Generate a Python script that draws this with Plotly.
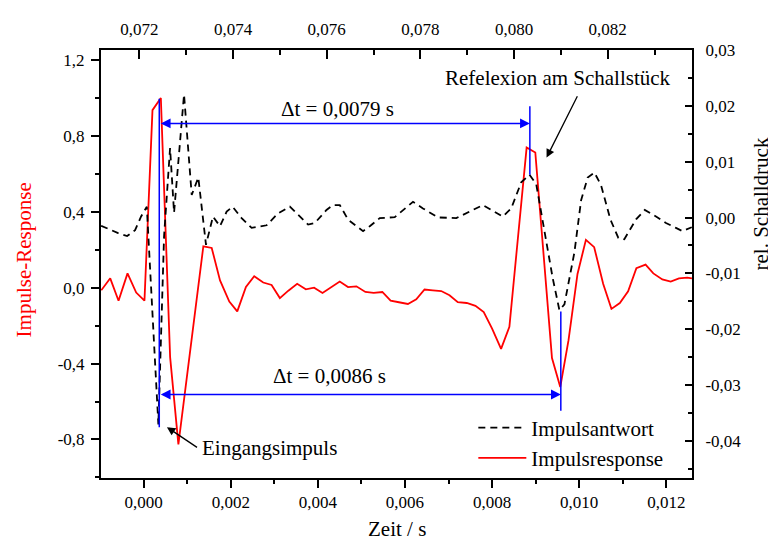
import plotly.graph_objects as go

# ---------------- data ----------------
# Impulsresponse (red, bottom time axis / left y axis)
red_t = [-0.000974, -0.000768, -0.000577, -0.000371, -0.000172, 0.000018, 0.000202, 0.000394,
         0.000607, 0.000797, 0.00137, 0.001562, 0.001753, 0.001966, 0.002149, 0.002348, 0.002538,
         0.002745, 0.002937, 0.003127, 0.003322, 0.003524, 0.003723, 0.003913, 0.004106, 0.004296,
         0.004502, 0.004692, 0.004884, 0.005091, 0.005281, 0.00548, 0.00567, 0.00586, 0.006067,
         0.006259, 0.006449, 0.006639, 0.006832, 0.007022, 0.007212, 0.007418, 0.007618, 0.007808,
         0.0080, 0.008206, 0.008397, 0.008793, 0.008992, 0.009375, 0.009565, 0.009755, 0.009961,
         0.010154, 0.010344, 0.01055, 0.01074, 0.010933, 0.011123, 0.011313, 0.011524, 0.011702,
         0.011909, 0.012101, 0.012291, 0.012481, 0.012589]
red_v = [-0.014, 0.049, -0.069, 0.075, -0.026, -0.069, 0.935, 0.999, -0.366, -0.826, 0.218, 0.209,
         0.038, -0.073, -0.125, 0.004, 0.06, 0.027, 0.014, -0.055, -0.016, 0.02, -0.009, 0.0,
         -0.028, 0.003, 0.032, 0.003, 0.007, -0.023, -0.028, -0.023, -0.069, -0.077, -0.086,
         -0.062, -0.010, -0.014, -0.018, -0.040, -0.077, -0.081, -0.096, -0.129, -0.216, -0.323,
         -0.206, 0.738, 0.712, -0.371, -0.524, -0.277, 0.072, 0.252, 0.213, 0.02, -0.112, -0.081,
         -0.019, 0.102, 0.121, 0.075, 0.043, 0.032, 0.049, 0.053, 0.049]

# Impulsantwort (black dashed, top time axis / right y axis)
black_t = [0.071183, 0.071546, 0.071738, 0.071908, 0.072036, 0.072158, 0.072405, 0.072527, 0.072655,
           0.07274, 0.072953, 0.073117, 0.073258, 0.073422, 0.073571, 0.073721, 0.073863, 0.073991,
           0.074183, 0.074396, 0.074716, 0.074963, 0.075213, 0.075356, 0.075603, 0.075746, 0.075995,
           0.076136, 0.076279, 0.076456, 0.076776, 0.076919, 0.077132, 0.077452, 0.077558, 0.077842,
           0.078055, 0.078375, 0.078767, 0.07905, 0.079334, 0.07976, 0.07994, 0.080153, 0.08033,
           0.080473, 0.080686, 0.080826, 0.080969, 0.081076, 0.081289, 0.081432, 0.081573, 0.081716,
           0.081858, 0.082057, 0.082227, 0.082355, 0.082605, 0.082792, 0.083031, 0.083244, 0.083457,
           0.083598, 0.083795]
black_v = [-0.00147, -0.00278, -0.0033, -0.00225, 0.00019, 0.00194, -0.03704, -0.0033, 0.01243,
           0.00089, 0.02204, 0.00403, 0.00719, -0.00488, 0.00019, -0.00156, 0.00107, 0.00194,
           -0.0001, -0.00185, -0.00138, 0.00077, 0.00194, 0.00077, -0.00126, -0.00098, 0.00136,
           0.00224, 0.00224, -0.00038, -0.00243, -0.00156, -0.0001, 0.00007, 0.00077, 0.00281,
           0.00164, 0.00002, -0.0001, 0.00107, 0.00224, 0.00019, 0.00164, 0.00631, 0.00766,
           0.00601, -0.00388, -0.01087, -0.01659, -0.01554, -0.00622, 0.00311, 0.00718, 0.00806,
           0.00579, -0.00033, -0.00365, -0.00388, -0.00033, 0.00136, 0.00019, -0.00098, -0.00185,
           -0.00243, -0.00173]

# tick values / labels
x_ticks = [0.000, 0.002, 0.004, 0.006, 0.008, 0.010, 0.012]
x2_ticks = [0.072, 0.074, 0.076, 0.078, 0.080, 0.082]
y_ticks = [-0.8, -0.4, 0.0, 0.4, 0.8, 1.2]
y2_ticks = [-0.04, -0.03, -0.02, -0.01, 0.00, 0.01, 0.02, 0.03]

# marker positions of the time-difference construction (data units)
t_start = 0.000358
t_refl_top = 0.008867
t_refl_bot = 0.009578
dt_top_label = "\u0394t = 0,0079 s"
dt_bot_label = "\u0394t = 0,0086 s"


def fmt(v, d):
    s = f"{v:.{d}f}".replace(".", ",")
    return s


FONT = "Liberation Serif"
TICKF = dict(family=FONT, size=17, color="black")

fig = go.Figure()
fig.add_trace(go.Scatter(x=red_t, y=red_v, mode="lines", name="Impulsresponse",
                         line=dict(color="#ff0000", width=1.8), xaxis="x", yaxis="y",
                         legendrank=2))
fig.add_trace(go.Scatter(x=black_t, y=black_v, mode="lines", name="Impulsantwort",
                         line=dict(color="black", width=1.8, dash="7px,5px"),
                         xaxis="x2", yaxis="y2", legendrank=1))

axis_common = dict(showgrid=False, zeroline=False, showline=True, linecolor="black",
                   linewidth=2, tickcolor="black", tickwidth=1.5, tickfont=TICKF)

# the page body adds an 8px offset; the figure is sized to fit in the window
fig.update_layout(
    width=768, height=533,
    margin=dict(l=92.7, r=83.5, t=31, b=63),
    paper_bgcolor="white", plot_bgcolor="white",
    showlegend=True,
    legend=dict(x=0.63, y=0.165, xanchor="left", yanchor="top",
                font=dict(family=FONT, size=21, color="black"),
                bgcolor="rgba(0,0,0,0)", itemwidth=48, tracegroupgap=0),
    xaxis=dict(range=[-0.00098, 0.01259], tickmode="array", tickvals=x_ticks,
               ticktext=[fmt(v, 3) for v in x_ticks], ticks="outside", ticklen=8,
               minor=dict(tickvals=[0.001, 0.003, 0.005, 0.007, 0.009, 0.011], ticks="outside",
                          ticklen=4, tickcolor="black", tickwidth=1.5),
               **axis_common),
    xaxis2=dict(range=[0.07118, 0.08380], overlaying="x", side="top", anchor="y2",
                tickmode="array", tickvals=x2_ticks, ticktext=[fmt(v, 3) for v in x2_ticks],
                ticks="inside", ticklen=9, ticklabelstandoff=6,
                minor=dict(tickvals=[0.073, 0.075, 0.077, 0.079, 0.081, 0.083], ticks="inside",
                           ticklen=5, tickcolor="black", tickwidth=1.5),
                **axis_common),
    yaxis=dict(range=[-1.003, 1.252], tickmode="array", tickvals=y_ticks,
               ticktext=[fmt(v, 1) for v in y_ticks], ticks="outside", ticklen=8,
               ticklabelstandoff=3,
               minor=dict(tickvals=[-1.0, -0.6, -0.2, 0.2, 0.6, 1.0], ticks="outside",
                          ticklen=4, tickcolor="black", tickwidth=1.5),
               **axis_common),
    yaxis2=dict(range=[-0.04663, 0.03], overlaying="y", side="right", anchor="x2",
                tickmode="array", tickvals=y2_ticks, ticktext=[fmt(v, 2) for v in y2_ticks],
                ticks="inside", ticklen=7, ticklabelstandoff=8,
                minor=dict(tickvals=[-0.045, -0.035, -0.025, -0.015, -0.005, 0.005, 0.015, 0.025],
                           ticks="inside", ticklen=4, tickcolor="black", tickwidth=1.5),
                **axis_common),
)

BLUE = "#0000ff"
# vertical blue marker lines
for (x0, y0, y1) in [(t_start, -0.735, 0.995), (t_refl_top, 0.595, 0.956), (t_refl_bot, -0.649, -0.126)]:
    fig.add_shape(type="line", xref="x", yref="y", x0=x0, x1=x0, y0=y0, y1=y1,
                  line=dict(color=BLUE, width=1.5))

# double headed horizontal arrows
for (xa, xb, yy) in [(t_start, t_refl_top, 0.865), (t_start, t_refl_bot, -0.563)]:
    fig.add_annotation(x=xb, y=yy, ax=xa, ay=yy, xref="x", yref="y", axref="x", ayref="y",
                       text="", showarrow=True, arrowhead=2, arrowside="end+start",
                       arrowsize=1.4, arrowwidth=1.4, arrowcolor=BLUE, standoff=0, startstandoff=0)

# black pointer arrows
fig.add_annotation(x=0.00925, y=0.685, ax=0.009975, ay=1.016, xref="x", yref="y", axref="x",
                   ayref="y", text="", showarrow=True, arrowhead=2, arrowsize=1.3,
                   arrowwidth=1.3, arrowcolor="black")
fig.add_annotation(x=0.000534, y=-0.735, ax=0.001259, ay=-0.847, xref="x", yref="y", axref="x",
                   ayref="y", text="", showarrow=True, arrowhead=2, arrowsize=1.3,
                   arrowwidth=1.3, arrowcolor="black")

TXT = dict(family=FONT, size=21, color="black")
texts = [
    (dt_top_label, 0.401, 0.8633),
    (dt_bot_label, 0.3865, 0.2392),
    ("Refelexion am Schallstück", 0.7727, 0.934),
    ("Eingangsimpuls", 0.2844, 0.0706),
]
for (t, xp, yp) in texts:
    fig.add_annotation(text=t, x=xp, y=yp, xref="paper", yref="paper", showarrow=False,
                       xanchor="center", yanchor="middle", font=TXT)

# axis titles
fig.add_annotation(text="Impulse-Response", x=-0.1308, y=0.510, xref="paper", yref="paper",
                   showarrow=False, textangle=-90, xanchor="center", yanchor="middle",
                   font=dict(family=FONT, size=21, color="#ff0000"))
fig.add_annotation(text="rel. Schalldruck", x=1.1175, y=0.640, xref="paper", yref="paper",
                   showarrow=False, textangle=-90, xanchor="center", yanchor="middle",
                   font=dict(family=FONT, size=21, color="black"))
fig.add_annotation(text="Zeit / s", x=0.5015, y=-0.1185, xref="paper", yref="paper",
                   showarrow=False, xanchor="center", yanchor="middle",
                   font=dict(family=FONT, size=21, color="black"))

fig.write_html("out.html")
